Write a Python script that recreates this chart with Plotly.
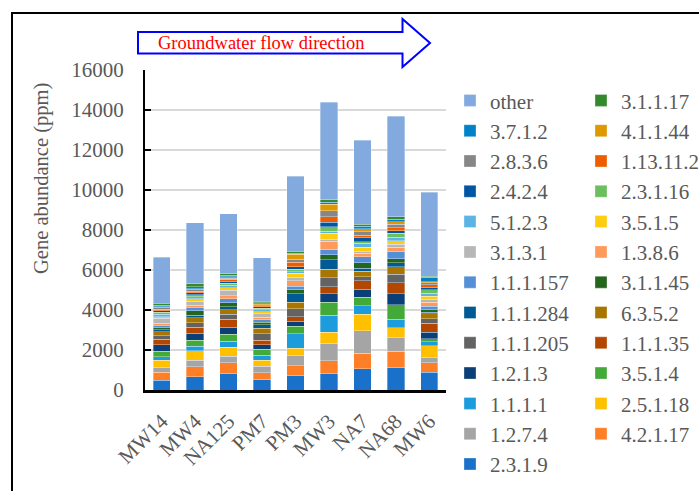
import plotly.graph_objects as go

# Sampling sites, ordered along the groundwater flow path
sites = ["MW14", "MW4", "NA125", "PM7", "PM3", "MW3", "NA7", "NA68", "MW6"]

# Gene abundance (ppm) per EC number, listed from the bottom of each stack upward
ec_2_3_1_9   = [500, 667, 817, 517, 717, 817, 1067, 1117, 900]
ec_4_2_1_17  = [400, 500, 550, 350, 500, 650, 783, 817, 467]
ec_1_2_7_4   = [233, 333, 333, 333, 500, 883, 1117, 683, 267]
ec_2_5_1_18  = [367, 467, 450, 300, 367, 550, 817, 500, 567]
ec_1_1_1_1   = [167, 233, 283, 250, 733, 850, 433, 417, 217]
ec_3_5_1_4   = [267, 300, 367, 300, 383, 633, 433, 733, 133]
ec_1_2_1_3   = [333, 333, 350, 217, 233, 433, 383, 550, 333]
ec_1_1_1_35  = [283, 317, 383, 217, 233, 350, 433, 550, 450]
ec_1_1_1_205 = [167, 217, 250, 317, 400, 450, 200, 417, 233]
ec_6_3_5_2   = [200, 250, 233, 283, 317, 417, 267, 367, 250]
ec_1_1_1_284 = [100, 117, 150, 167, 433, 483, 167, 200, 83]
ec_3_1_1_45  = [133, 233, 200, 133, 217, 250, 267, 217, 133]
ec_1_1_1_157 = [83, 167, 200, 133, 167, 250, 300, 333, 150]
ec_1_3_8_6   = [100, 100, 150, 117, 267, 417, 183, 233, 200]
ec_3_1_3_1   = [250, 200, 283, 167, 167, 100, 100, 150, 150]
ec_3_5_1_5   = [83, 133, 117, 100, 200, 300, 200, 167, 150]
ec_5_1_2_3   = [133, 100, 117, 100, 83, 100, 183, 183, 167]
ec_2_3_1_16  = [100, 100, 100, 83, 117, 233, 83, 200, 167]
ec_2_4_2_4   = [67, 100, 83, 67, 133, 233, 200, 133, 117]
ec_1_13_11_2 = [83, 67, 117, 67, 233, 267, 117, 150, 133]
ec_2_8_3_6   = [67, 67, 67, 50, 150, 300, 183, 167, 100]
ec_4_1_1_44  = [50, 67, 67, 50, 233, 317, 150, 133, 50]
ec_3_7_1_2   = [67, 100, 67, 50, 67, 117, 133, 117, 233]
ec_3_1_1_17  = [100, 133, 83, 67, 100, 117, 100, 133, 50]
other        = [2300, 3067, 3000, 2183, 3750, 4883, 4183, 5033, 4200]

series = [
    ("2.3.1.9", ec_2_3_1_9, "#1971C9"),
    ("4.2.1.17", ec_4_2_1_17, "#FF7F27"),
    ("1.2.7.4", ec_1_2_7_4, "#A5A5A5"),
    ("2.5.1.18", ec_2_5_1_18, "#FFC000"),
    ("1.1.1.1", ec_1_1_1_1, "#1C9CDC"),
    ("3.5.1.4", ec_3_5_1_4, "#43AA3A"),
    ("1.2.1.3", ec_1_2_1_3, "#0A3F78"),
    ("1.1.1.35", ec_1_1_1_35, "#B34700"),
    ("1.1.1.205", ec_1_1_1_205, "#636363"),
    ("6.3.5.2", ec_6_3_5_2, "#A87600"),
    ("1.1.1.284", ec_1_1_1_284, "#005A94"),
    ("3.1.1.45", ec_3_1_1_45, "#24661E"),
    ("1.1.1.157", ec_1_1_1_157, "#5590D6"),
    ("1.3.8.6", ec_1_3_8_6, "#FF9A5B"),
    ("3.1.3.1", ec_3_1_3_1, "#B7B7B7"),
    ("3.5.1.5", ec_3_5_1_5, "#FFCD10"),
    ("5.1.2.3", ec_5_1_2_3, "#5CB4E4"),
    ("2.3.1.16", ec_2_3_1_16, "#6CBF5E"),
    ("2.4.2.4", ec_2_4_2_4, "#0056A4"),
    ("1.13.11.2", ec_1_13_11_2, "#EE5E00"),
    ("2.8.3.6", ec_2_8_3_6, "#878787"),
    ("4.1.1.44", ec_4_1_1_44, "#DE9800"),
    ("3.7.1.2", ec_3_7_1_2, "#0081C9"),
    ("3.1.1.17", ec_3_1_1_17, "#34892D"),
    ("other", other, "#82AADE"),
]

y_ticks = [0, 2000, 4000, 6000, 8000, 10000, 12000, 14000, 16000]
y_tick_labels = ["0", "2000", "4000", "6000", "8000", "10000", "12000", "14000", "16000"]

SERIF = "Liberation Serif, Times New Roman, serif"
GREY_TEXT = "#595959"

W, H = 699, 491
L, R, T, B = 145, 446, 70, 390


def px(x):
    return (x - L) / (R - L)


def py(y):
    return (B - y) / (B - T)


fig = go.Figure()
for name, vals, color in series:
    fig.add_trace(go.Bar(
        x=sites, y=vals, name=name,
        marker=dict(color=color, line=dict(color="rgba(255,255,255,0.55)", width=0.6)),
    ))

# Outer frame (left and top edges)
fig.add_shape(type="path", xref="paper", yref="paper",
              path=f"M{px(12)},{py(495)} L{px(12)},{py(13)} L{px(705)},{py(13)}",
              line=dict(color="black", width=2))

# Flow-direction arrow
arrow = (f"M{px(138)},{py(32)} L{px(402.5)},{py(32)} L{px(402.5)},{py(19)} "
         f"L{px(430)},{py(43)} L{px(402.5)},{py(67)} L{px(402.5)},{py(53.5)} "
         f"L{px(138)},{py(53.5)} Z")
fig.add_shape(type="path", xref="paper", yref="paper", path=arrow,
              line=dict(color="#0000FF", width=2), fillcolor="white")
fig.add_annotation(x=px(261), y=py(43), xref="paper", yref="paper",
                   xanchor="center", yanchor="middle",
                   text="Groundwater flow direction", showarrow=False,
                   font=dict(family=SERIF, size=18.5, color="#FF0000"))

# Y axis title
fig.add_annotation(x=px(41), y=py(179), xref="paper", yref="paper",
                   xanchor="center", yanchor="middle",
                   text="Gene abundance (ppm)", showarrow=False, textangle=-90,
                   font=dict(family=SERIF, size=20.5, color=GREY_TEXT))

fig.update_layout(
    width=W, height=H,
    margin=dict(l=L, r=W - R, t=T, b=H - B, autoexpand=False),
    barmode="stack", bargap=0.48,
    paper_bgcolor="white", plot_bgcolor="white",
    font=dict(family=SERIF, size=21, color=GREY_TEXT),
    showlegend=True,
    legend=dict(
        orientation="h", traceorder="reversed",
        x=px(450), xanchor="left", y=0.968, yanchor="top",
        entrywidth=86, entrywidthmode="pixels", maxheight=480,
        font=dict(family=SERIF, size=21, color=GREY_TEXT),
        bgcolor="rgba(0,0,0,0)",
    ),
    xaxis=dict(
        tickangle=-45, showline=True, linecolor="black", linewidth=2.5,
        ticks="", showgrid=False, ticklabelstandoff=8,
        tickfont=dict(family=SERIF, size=21, color=GREY_TEXT),
    ),
    yaxis=dict(
        range=[0, 16000], tickvals=y_ticks, ticktext=y_tick_labels,
        showline=True, linecolor="black", linewidth=2,
        ticks="inside", ticklen=6, tickwidth=2, tickcolor="black",
        showgrid=True, gridcolor="#D9D9D9", gridwidth=1.6,
        zeroline=False, ticklabelstandoff=15,
        tickfont=dict(family=SERIF, size=21, color=GREY_TEXT),
    ),
)

fig.write_html("out.html")
